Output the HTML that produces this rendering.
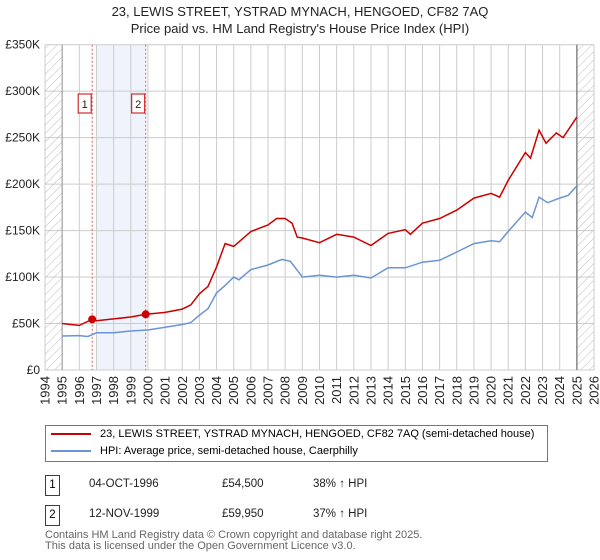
<!DOCTYPE html>
<html><head><meta charset="utf-8"><style>
body{margin:0;width:600px;height:560px;background:#fff;font-family:"Liberation Sans","DejaVu Sans",sans-serif;overflow:hidden;position:relative}
.t{position:absolute;left:0;width:600px;text-align:center;font-size:13px;color:#222}
.legend{position:absolute;left:45px;top:425px;width:501px;height:35px;border:1px solid #777;font-size:11px;white-space:nowrap}
.row{position:absolute;font-size:11.5px;color:#222}
.box{position:absolute;width:13px;height:19px;border:1px solid #cc0000;font-size:11.5px;text-align:center;line-height:19px}
.foot{position:absolute;left:45px;font-size:11px;color:#666}
</style></head><body>
<div class="t" style="top:4px">23, LEWIS STREET, YSTRAD MYNACH, HENGOED, CF82 7AQ</div>
<div class="t" style="top:21px">Price paid vs. HM Land Registry's House Price Index (HPI)</div>
<svg id="chart" width="600" height="420" style="position:absolute;left:0;top:0">
<defs><pattern id="hatch" width="6" height="6" patternUnits="userSpaceOnUse" patternTransform="rotate(45)"><line x1="0" y1="0" x2="0" y2="6" stroke="#bbb" stroke-width="1"/></pattern></defs>
</svg>
<div class="legend">
<div style="position:absolute;left:5px;top:2px"><span style="display:inline-block;width:40px;border-top:2px solid #cc0000;vertical-align:middle;margin-right:9px"></span>23, LEWIS STREET, YSTRAD MYNACH, HENGOED, CF82 7AQ (semi-detached house)</div>
<div style="position:absolute;left:5px;top:19px"><span style="display:inline-block;width:40px;border-top:2px solid #6a94d4;vertical-align:middle;margin-right:9px"></span>HPI: Average price, semi-detached house, Caerphilly</div>
</div>
<div class="box" style="left:45px;top:475px">1</div>
<div class="row" style="left:89px;top:478px">04-OCT-1996</div>
<div class="row" style="left:222px;top:478px">£54,500</div>
<div class="row" style="left:313px;top:478px">38% ↑ HPI</div>
<div class="box" style="left:45px;top:505px">2</div>
<div class="row" style="left:89px;top:508px">12-NOV-1999</div>
<div class="row" style="left:222px;top:508px">£59,950</div>
<div class="row" style="left:313px;top:508px">37% ↑ HPI</div>
<div class="foot" style="top:529px">Contains HM Land Registry data © Crown copyright and database right 2025.</div>
<div class="foot" style="top:540px">This data is licensed under the Open Government Licence v3.0.</div>
<script>
const yTicks=[0,50,100,150,200,250,300,350];
const yTickLabels=["£0","£50K","£100K","£150K","£200K","£250K","£300K","£350K"];
const xYears=[1994,1995,1996,1997,1998,1999,2000,2001,2002,2003,2004,2005,2006,2007,2008,2009,2010,2011,2012,2013,2014,2015,2016,2017,2018,2019,2020,2021,2022,2023,2024,2025,2026];
const hpiT=[1995,1996,1996.5,1997,1998,1999,2000,2001,2002,2002.5,2003,2003.5,2004,2004.5,2005,2005.3,2006,2007,2007.8,2008.3,2008.8,2009,2010,2011,2012,2013,2014,2015,2016,2017,2018,2019,2020,2020.5,2021,2022,2022.4,2022.8,2023.3,2024,2024.5,2025];
const hpiV=[36.6,37,36,40,40,42,43,46,49,51,59,66,83,91,100,97,108,113,119,117,105,100,102,100,102,99,110,110,116,118,127,136,139,138,149,170,164,186,180,185,188,198];
const priceT=[1995,1995.5,1996,1996.75,1997,1998,1999,1999.87,2000.5,2001,2002,2002.5,2003,2003.5,2004,2004.5,2005,2006,2007,2007.5,2008,2008.4,2008.7,2009,2010,2011,2012,2013,2014,2015,2015.3,2016,2017,2018,2019,2020,2020.5,2021,2022,2022.3,2022.8,2023.2,2023.8,2024.2,2025];
const priceV=[50,49,48,54.5,53,55,57,59.95,61,62,65.5,70,82,90,111,136,133,149,156,163,163,158,143,142,137,146,143,134,147,151,146,158,163,172,185,190,186,204,234,228,258,244,255,250,272];
const sales=[[1996.75,54.5,"1"],[1999.87,59.95,"2"]];
const X0=45,X1=594,Y0=370,Y1=44.7;
const x=t=>X0+(t-1994)/32*(X1-X0);
const y=v=>Y0-v/350*(Y0-Y1);
const svg=document.getElementById('chart');
const NS='http://www.w3.org/2000/svg';
function mk(tag,attrs,parent){const e=document.createElementNS(NS,tag);for(const k in attrs)e.setAttribute(k,attrs[k]);(parent||svg).appendChild(e);return e;}
let e;
e=mk('rect',{x:x(1997),y:Y1,width:x(1999.87)-x(1997),height:Y0-Y1,fill:'#eef3fc'});


xYears.forEach(t=>{e=mk('line',{x1:x(t),x2:x(t),y1:Y1,y2:Y0,stroke:'#ccc','stroke-width':1});


e=mk('text',{x:0,y:0,transform:`translate(${x(t)+4.5},${Y0+6}) rotate(-90)`,'text-anchor':'end','font-size':13,fill:'#222'});
e.textContent=t;

});
yTicks.forEach((v,i)=>{e=mk('line',{x1:X0,x2:X1,y1:y(v),y2:y(v),stroke:'#ccc','stroke-width':1});


e=mk('text',{x:X0-5,y:y(v)+4,'text-anchor':'end','font-size':12,fill:'#222'});
e.textContent=yTickLabels[i];

});
e=mk('rect',{x:X0,y:Y1,width:x(1995)-X0,height:Y0-Y1,fill:'url(#hatch)'});


e=mk('rect',{x:x(2025),y:Y1,width:X1-x(2025),height:Y0-Y1,fill:'url(#hatch)'});


e=mk('line',{x1:x(1995),x2:x(1995),y1:Y1,y2:Y0,stroke:'#999','stroke-width':1});


e=mk('line',{x1:x(2025),x2:x(2025),y1:Y1,y2:Y0,stroke:'#888','stroke-width':1.5});


sales.forEach(s=>{e=mk('line',{x1:x(s[0]),x2:x(s[0]),y1:Y1,y2:Y0,stroke:'#e55','stroke-width':1,'stroke-dasharray':'2,2'});


e=mk('rect',{x:x(s[0])-14,y:94,width:13,height:19,fill:'#fff',stroke:'#cc0000','stroke-width':1});


e=mk('text',{x:x(s[0])-7.5,y:108,'text-anchor':'middle','font-size':11,fill:'#222'});
e.textContent=s[2];

});
e=mk('path',{d:hpiT.map((t,i)=>(i?'L':'M')+x(t).toFixed(1)+','+y(hpiV[i]).toFixed(1)).join(''),fill:'none',stroke:'#6a94d4','stroke-width':1.5});


e=mk('path',{d:priceT.map((t,i)=>(i?'L':'M')+x(t).toFixed(1)+','+y(priceV[i]).toFixed(1)).join(''),fill:'none',stroke:'#cc0000','stroke-width':1.5});


sales.forEach(s=>{e=mk('circle',{cx:x(s[0]),cy:y(s[1]),r:4,fill:'#cc0000'});

});
</script>
</body></html>
